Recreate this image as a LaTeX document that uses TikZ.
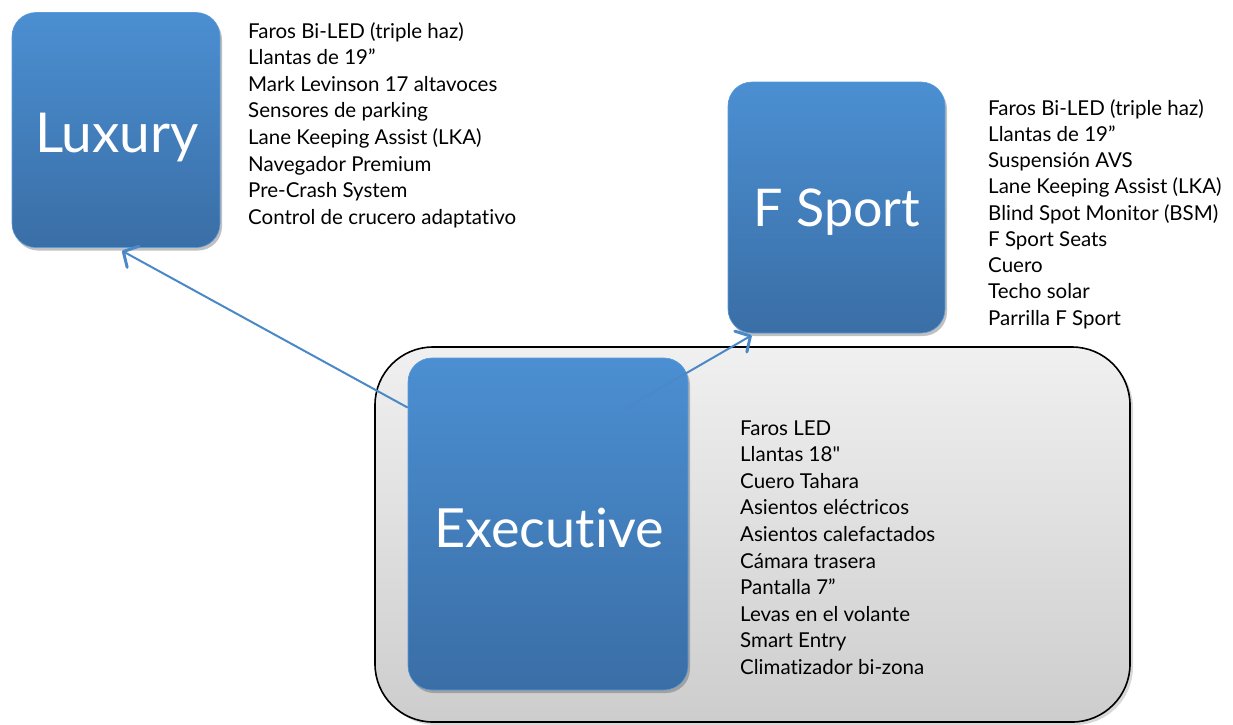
\documentclass[tikz,border=0pt]{standalone}
\usepackage{fontspec}
\setmainfont{Lato}[Ligatures={NoCommon}]
\usetikzlibrary{arrows.meta,shadows,calc}
\definecolor{bluetop}{HTML}{4B8FD2}
\definecolor{bluebot}{HTML}{3A6EA6}
\definecolor{blueedge}{HTML}{5A9BDA}
\definecolor{arrowblue}{HTML}{4A88C8}
\definecolor{greytop}{HTML}{F0F0F0}
\definecolor{greybot}{HTML}{CDCDCD}
\tikzset{
  bluebox/.style={rounded corners=24pt, top color=bluetop, bottom color=bluebot,
    draw=blueedge, line width=0.6pt, inner sep=0pt,
    drop shadow={shadow xshift=2pt, shadow yshift=-3pt, opacity=0.35, fill=black!70}},
  greybox/.style={rounded corners=58pt, top color=greytop, bottom color=greybot,
    draw=black, line width=1.6pt,
    drop shadow={shadow xshift=3pt, shadow yshift=-3pt, opacity=0.3}},
  title/.style={text=white, inner sep=0pt, anchor=center},
  featlist/.style={anchor=base west, inner sep=0pt, text=black},
  conn/.style={draw=arrowblue, line width=2pt,
    -{Straight Barb[length=11pt,width=24pt,line width=3pt,round]}},
}
\newcommand{\featbox}[1]{\parbox[t]{320pt}{\fontsize{20.5}{26.6}\selectfont\raggedright #1}}
\begin{document}
\begin{tikzpicture}[x=1pt,y=-1pt]
\useasboundingbox (0,0) rectangle (1233,724);
\fill[white] (0,0) rectangle (1233,724);

% grey container
\path[greybox] (375,347) rectangle (1130,722);

% blue boxes
\node[bluebox, minimum width=208pt, minimum height=235pt] (lux) at (116,130) {};
\node[bluebox, minimum width=217pt, minimum height=251pt] (fsp) at (836.5,207.5) {};
\node[bluebox, minimum width=280pt, minimum height=332pt] (exe) at (548,524) {};

\node[title, font=\fontsize{55}{55}\selectfont] (luxt) at (117,138) {Luxury};
\node[title, font=\fontsize{52}{52}\selectfont] (fspt) at (837,212) {F Sport};
\node[title, font=\fontsize{54}{54}\selectfont] (exet) at (549,528) {Executive};

% connectors
\coordinate (exeL) at ($(exe.north west)!0.15!(exe.south west)$);
\coordinate (exeR) at (626,408);
\coordinate (luxB) at ($(lux.south)+(6,3)$);
\coordinate (fspB) at ($(fsp.south west)+(24,2)$);
\draw[conn] (exeL) -- (luxB);
\draw[conn] (exeR) -- (fspB);

% feature lists
\node[featlist] (luxl) at (248,38) {\featbox{Faros Bi-LED (triple haz)\\
Llantas de 19”\\
Mark Levinson 17 altavoces\\
Sensores de parking\\
Lane Keeping Assist (LKA)\\
Navegador Premium\\
Pre-Crash System\\
Control de crucero adaptativo}};

\node[featlist] (fspl) at (988,115) {\featbox{\fontsize{20.5}{26.25}\selectfont Faros Bi-LED (triple haz)\\
Llantas de 19”\\
Suspensión AVS\\
Lane Keeping Assist (LKA)\\
Blind Spot Monitor (BSM)\\
F Sport Seats\\
Cuero\\
Techo solar\\
Parrilla F Sport}};

\node[featlist] (exel) at (740,435) {\featbox{Faros LED\\
Llantas 18\textquotedbl\\
Cuero Tahara\\
Asientos eléctricos\\
Asientos calefactados\\
Cámara trasera\\
Pantalla 7”\\
Levas en el volante\\
Smart Entry\\
Climatizador bi-zona}};
\end{tikzpicture}
\end{document}
